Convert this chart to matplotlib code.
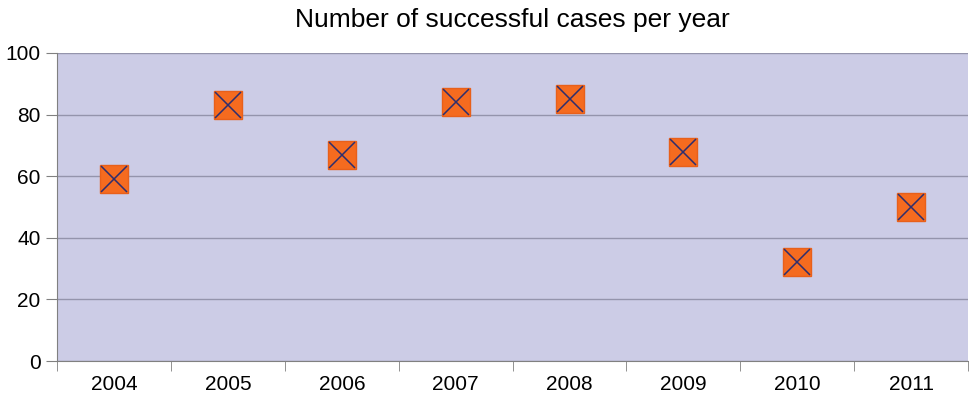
import matplotlib.pyplot as plt
import numpy as np

years = ["2004", "2005", "2006", "2007", "2008", "2009", "2010", "2011"]
cases = [59, 83, 67, 84, 85, 68, 32, 50]
y_ticks = [0, 20, 40, 60, 80, 100]


def _main():
    plt.rcParams["font.family"] = ["Liberation Sans", "DejaVu Sans"]
    fig = plt.figure(figsize=(9.69, 4.07), dpi=100)
    ax = fig.add_axes([0.059, 0.113, 0.94, 0.757])
    ax.set_facecolor("#CCCCE6")

    x = np.arange(len(years))
    ax.plot(x, cases, linestyle="none", marker="s", markersize=20,
            markerfacecolor="#F56B1F", markeredgecolor="#E8601A", markeredgewidth=1)
    ax.plot(x, cases, linestyle="none", marker="x", markersize=19,
            markeredgecolor="#2E2E6E", markeredgewidth=1.1)

    ax.set_xlim(-0.5, len(years) - 0.5)
    ax.set_ylim(0, 100)
    ax.set_yticks(y_ticks)
    ax.set_xticks(x)
    ax.set_xticklabels(years)
    ax.set_xticks(np.arange(len(years) + 1) - 0.5, minor=True)
    ax.tick_params(axis="x", which="major", length=0, labelsize=15, pad=10)
    ax.tick_params(axis="x", which="minor", length=7, color="#808080")
    ax.tick_params(axis="y", length=8, color="#808080", labelsize=15, pad=4)
    ax.yaxis.grid(True, color="#9494AC", linewidth=1)
    ax.set_axisbelow(True)

    for side in ["top", "right"]:
        ax.spines[side].set_visible(False)
    for side in ["left", "bottom"]:
        ax.spines[side].set_color("#808080")

    ax.set_title("Number of successful cases per year", fontsize=19, pad=19)
    fig.savefig("out.png", dpi=100)


if __name__ == "__main__":
    _main()
